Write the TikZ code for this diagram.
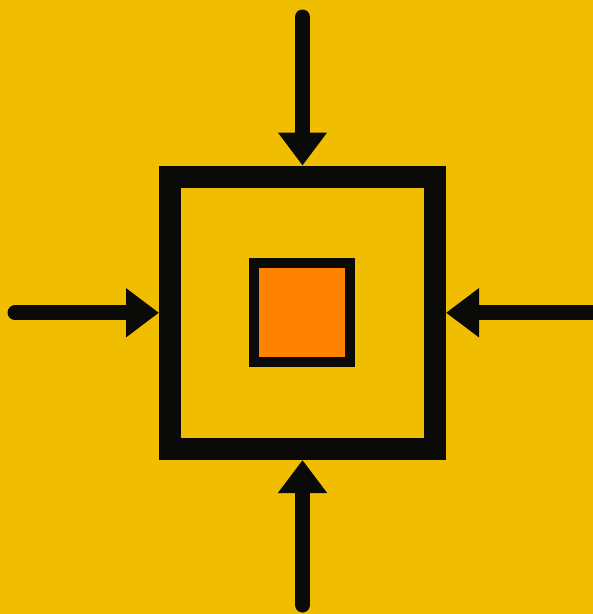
\documentclass[tikz,border=0pt]{standalone}
\usetikzlibrary{calc, positioning}
\usetikzlibrary{arrows.meta}

\definecolor{bgyellow}{HTML}{F0BD00}
\definecolor{inkblack}{HTML}{0A0A08}
\definecolor{coreorange}{HTML}{FF8300}

\tikzset{
  push/.style={draw=inkblack, line width=15pt, line cap=round,
    -{Triangle[length=33pt, width=47pt]}},
}

\begin{document}
\begin{tikzpicture}[x=1pt, y=-1pt]
\def\W{593}
\def\H{614}

\fill[bgyellow] (0,0) rectangle (\W,\H);
\useasboundingbox (0,0) rectangle (\W,\H);

\node[draw=inkblack, line width=22pt, minimum width=265pt, minimum height=272.5pt,
  inner sep=0pt] (frame) at (302.5,312.75) {};
\node[draw=inkblack, fill=coreorange, line width=10pt, minimum width=96pt,
  minimum height=99pt, inner sep=0pt] (core) at (302,312.5) {};

\coordinate (ntop) at (302.5,17);
\coordinate (nleft) at (15,312.75);
\coordinate (nright) at (605,312.75);
\coordinate (nbottom) at (302.5,605);

\draw[push] (ntop) -- (frame.north);
\draw[push] (nleft) -- (frame.west);
\draw[push] (nright) -- (frame.east);
\draw[push] (nbottom) -- (frame.south);
\end{tikzpicture}
\end{document}
